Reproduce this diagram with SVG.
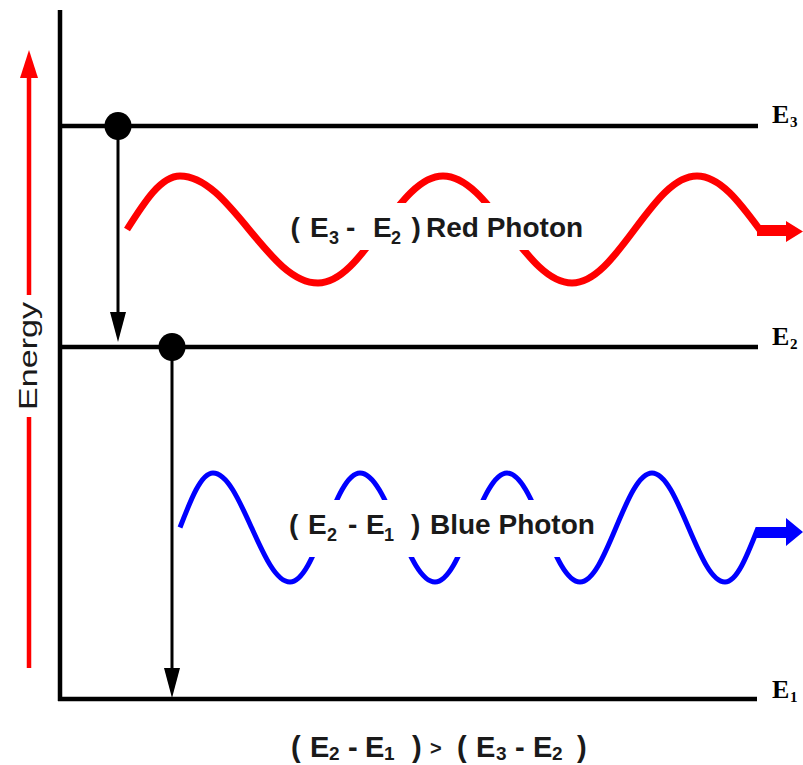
<svg xmlns="http://www.w3.org/2000/svg" width="803" height="765" viewBox="0 0 803 765">
<style>
.lvl{stroke:#000;stroke-width:4.5;fill:none}
.trans{stroke:#000;stroke-width:3;fill:none}
.dot{fill:#000}
.lbl{font-family:"Liberation Sans",Arial,sans-serif;font-weight:bold;font-size:28px;fill:#1a1a1a}
.sub{font-size:18px}
.bot{font-family:"Liberation Sans",Arial,sans-serif;font-weight:bold;font-size:29px;fill:#1a1a1a}
.bsub{font-size:19px}
.elbl{font-family:"Liberation Serif","Times New Roman",serif;font-weight:bold;font-size:26px;fill:#000}
.esub{font-size:15px}
.red{stroke:#ff0000;stroke-width:7;fill:none}
.blue{stroke:#0000ff;stroke-width:5;fill:none}
</style>
<defs>
<marker id="ah" markerUnits="userSpaceOnUse" markerWidth="30" markerHeight="16" viewBox="0 0 30 16" refX="20" refY="8" orient="auto">
<path d="M0,0 L30,8 L0,16 Z" fill="#000"/>
</marker>
<marker id="ahRed" markerUnits="userSpaceOnUse" markerWidth="28" markerHeight="18" viewBox="0 0 28 18" refX="18" refY="9" orient="auto">
<path d="M0,0 L28,9 L0,18 Z" fill="#ff0000"/>
</marker>
<mask id="redGap" maskUnits="userSpaceOnUse" x="0" y="0" width="803" height="765">
<rect x="0" y="0" width="803" height="765" fill="#fff"/>
<rect x="288" y="203" width="298" height="47" fill="#000"/>
</mask>
<mask id="blueGap" maskUnits="userSpaceOnUse" x="0" y="0" width="803" height="765">
<rect x="0" y="0" width="803" height="765" fill="#fff"/>
<rect x="286" y="500" width="305" height="57" fill="#000"/>
</mask>
</defs>
<rect width="803" height="765" fill="#fff"/>

<g id="energy-axis">
<line x1="29" y1="668" x2="29" y2="417" stroke="#ff0000" stroke-width="4.5"/>
<line x1="29" y1="295" x2="29" y2="60" stroke="#ff0000" stroke-width="4.5" marker-end="url(#ahRed)"/>
<text transform="translate(37,356) rotate(-90)" text-anchor="middle" textLength="108" lengthAdjust="spacingAndGlyphs" style="font-family:'Liberation Sans',Arial,sans-serif;font-size:26px;fill:#1a1a1a">Energy</text>
</g>

<g id="frame">
<line class="lvl" x1="60" y1="10" x2="60" y2="701"/>
</g>

<g id="level-E3">
<line class="lvl" x1="58" y1="126" x2="758" y2="126"/>
<text class="elbl" x="772" y="123">E<tspan class="esub" x="790" y="127">3</tspan></text>
</g>
<g id="level-E2">
<line class="lvl" x1="58" y1="347" x2="758" y2="347"/>
<text class="elbl" x="772" y="345">E<tspan class="esub" x="790" y="349">2</tspan></text>
</g>
<g id="level-E1">
<line class="lvl" x1="58" y1="699" x2="757" y2="699"/>
<text class="elbl" x="772" y="698">E<tspan class="esub" x="790" y="702">1</tspan></text>
</g>

<g id="connectors">
<line class="trans" x1="118" y1="126" x2="118" y2="332" marker-end="url(#ah)"/>
<line class="trans" x1="172" y1="347" x2="172" y2="688" marker-end="url(#ah)"/>
</g>

<g id="electron-E3"><ellipse class="dot" cx="118" cy="126" rx="13.5" ry="14"/></g>
<g id="electron-E2"><ellipse class="dot" cx="172" cy="347" rx="13.5" ry="14"/></g>

<g id="red-photon">
<path class="red" mask="url(#redGap)" d="M127,229.5 C144.3,202.1 160.8,176 180,176 C205,176 226.5,202.1 249,229.5 C271.5,256.9 293,283 318,283 C340.6,283 360.1,256.9 380.5,229.5 C400.9,202.1 420.4,176 443,176 C466.3,176 486.5,202.1 507.5,229.5 C528.5,256.9 548.7,283 572,283 C594.6,283 614.1,256.9 634.5,229.5 C654.9,202.1 674.4,176 697,176 C719.8,176 739.5,202.1 760,230"/>
<path d="M757,225 L786,225 L786,221 L803,231.5 L786,242 L786,236 L757,236 Z" fill="#ff0000"/>
<text class="lbl"><tspan x="290.5" y="237">(</tspan><tspan x="310" y="237">E</tspan><tspan class="sub" x="329" y="244">3</tspan><tspan x="346" y="237">-</tspan><tspan x="373" y="237">E</tspan><tspan class="sub" x="391" y="244">2</tspan><tspan x="411.5" y="237">)</tspan><tspan x="426" y="237">Red Photon</tspan></text>
</g>

<g id="blue-photon">
<path class="blue" mask="url(#blueGap)" d="M180,527.5 C190.8,499.6 201.1,473 213,473 C226.9,473 238.9,499.6 251.5,527.5 C264.1,555.4 276.1,582 290,582 C302.7,582 313.6,555.4 325,527.5 C336.4,499.6 347.3,473 360,473 C373.6,473 385.3,499.6 397.5,527.5 C409.7,555.4 421.4,582 435,582 C448,582 459.3,555.4 471,527.5 C482.7,499.6 494,473 507,473 C520.2,473 531.6,499.6 543.5,527.5 C555.4,555.4 566.8,582 580,582 C593,582 604.3,555.4 616,527.5 C627.7,499.6 639,473 652,473 C665.2,473 676.6,499.6 688.5,527.5 C700.4,555.4 711.8,582 725,582 C736.9,582 747.2,555.4 758,528"/>
<path d="M756,527 L786,527 L786,518 L803,532 L786,546 L786,538 L756,538 Z" fill="#0000ff"/>
<text class="lbl"><tspan x="289" y="534">(</tspan><tspan x="308" y="534">E</tspan><tspan class="sub" x="327" y="541">2</tspan><tspan x="348" y="534">-</tspan><tspan x="366" y="534">E</tspan><tspan class="sub" x="384" y="541">1</tspan><tspan x="411" y="534">)</tspan><tspan x="430" y="534">Blue Photon</tspan></text>
</g>

<g id="relation">
<text class="bot"><tspan x="291" y="757">(</tspan><tspan x="310" y="757">E</tspan><tspan class="bsub" x="329" y="760">2</tspan><tspan x="348" y="757">-</tspan><tspan x="365" y="757">E</tspan><tspan class="bsub" x="384" y="760">1</tspan><tspan x="412" y="757">)</tspan><tspan x="430" y="755" style="font-size:20px">&gt;</tspan><tspan x="457" y="757">(</tspan><tspan x="476" y="757">E</tspan><tspan class="bsub" x="496" y="760">3</tspan><tspan x="515" y="757">-</tspan><tspan x="533" y="757">E</tspan><tspan class="bsub" x="552" y="760">2</tspan><tspan x="577" y="757">)</tspan></text>
</g>
</svg>
